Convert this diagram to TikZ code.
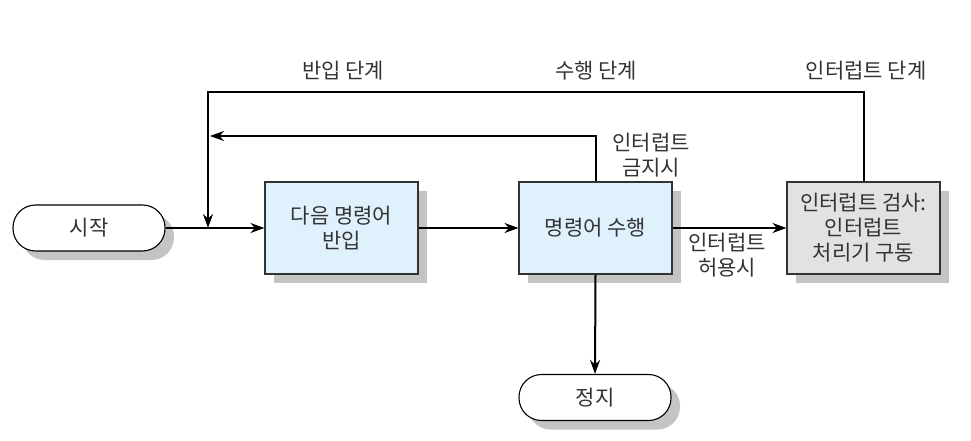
\documentclass[tikz,border=0pt]{standalone}
\usepackage{fontspec}
\setmainfont{Noto Sans CJK KR}
\usetikzlibrary{shadows,arrows.meta}
\definecolor{boxblue}{HTML}{DFF1FC}
\definecolor{boxgray}{HTML}{E2E2E2}
\definecolor{shade}{HTML}{C4C4C4}
\definecolor{ink}{HTML}{333333}
\begin{document}
\begin{tikzpicture}[x=1pt,y=-1pt,
  every node/.style={font=\fontsize{21}{25}\selectfont, text=ink, align=center, inner sep=0pt},
  sh/.style={drop shadow={shadow xshift=9pt, shadow yshift=-9pt, fill=shade, opacity=1}},
  term/.style={draw=black, line width=1.1pt, fill=white, rounded corners=22.5pt, minimum width=152pt, minimum height=46pt, sh},
  procbox/.style={draw=ink, line width=1.1pt, minimum width=153pt, minimum height=92pt, sh},
  flow/.style={line width=2pt, -{Stealth[length=14pt,width=10pt]}},
  plain/.style={line width=2pt}]
\useasboundingbox (0,0) rectangle (971,441);
\node[term] (start) at (89,228) {시작};
\node[procbox, fill=boxblue] (fetch) at (341.5,228) {다음 명령어\\반입};
\node[procbox, fill=boxblue] (exec) at (595.5,228) {명령어 수행};
\node[procbox, fill=boxgray] (intr) at (863.5,228) {인터럽트 검사:\\인터럽트\\처리기 구동};
\node[term] (halt) at (595,397.5) {정지};
\coordinate (j) at (208,228);
\coordinate (outerTL) at (208,92);
\coordinate (innerL) at (210,136);
\draw[flow] (start) -- (fetch);
\draw[flow] (fetch) -- (exec);
\draw[flow] (exec) -- (intr);
\draw[flow] (exec.south) -- (halt.north);
\draw[flow] (intr.north) |- (outerTL) -- (j);
\draw[flow] (exec.north) |- (innerL);
\node (l1) at (343,71) {반입 단계};
\node (l2) at (596,71) {수행 단계};
\node (l3) at (866,71) {인터럽트 단계};
\node (l4) at (651,155) {인터럽트\\금지시};
\node (l5) at (727,255) {인터럽트\\허용시};
\end{tikzpicture}
\end{document}
